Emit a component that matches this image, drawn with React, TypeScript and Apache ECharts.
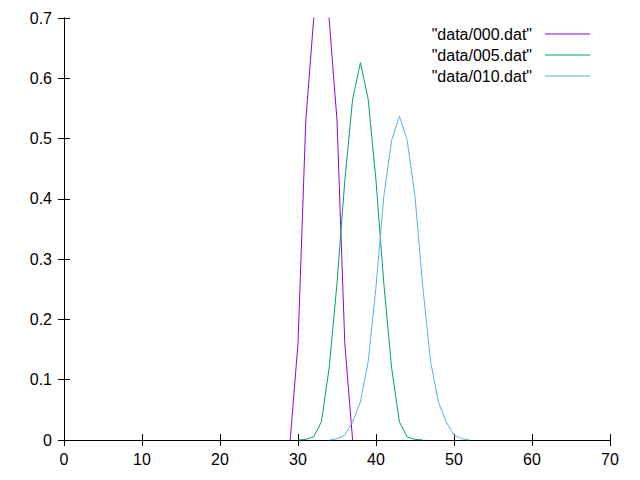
import React, { useEffect, useRef } from "react";
import * as echarts from "echarts";

const names = ['"data/000.dat"', '"data/005.dat"', '"data/010.dat"'];
const colors = ["#9400D3", "#009E73", "#56B4E9"];

const x000 = [29, 30, 31, 32, 33, 34, 35, 36, 37];
const y000 = [0, 0.16, 0.53, 0.697, 0.8, 0.697, 0.53, 0.16, 0];

const x005 = [30, 31, 32, 33, 34, 35, 36, 37, 38, 39, 40, 41, 42, 43, 44, 45, 46];
const y005 = [0, 0.001, 0.005, 0.03, 0.12, 0.26, 0.43, 0.565, 0.626, 0.565, 0.43, 0.26, 0.12, 0.03, 0.005, 0.001, 0];

const x010 = [34, 35, 36, 37, 38, 39, 40, 41, 42, 43, 44, 45, 46, 47, 48, 49, 50, 51, 52];
const y010 = [0, 0.002, 0.008, 0.03, 0.063, 0.13, 0.254, 0.404, 0.497, 0.537, 0.497, 0.404, 0.254, 0.13, 0.063, 0.03, 0.008, 0.002, 0];

const xMin = 0, xMax = 70, xStep = 10;
const yMin = 0, yMax = 0.7, yStep = 0.1;

const FONT = "Liberation Sans, Arial, sans-serif";

export default function App() {
  const ref = useRef<HTMLDivElement>(null);
  useEffect(() => {
    if (!ref.current) return;
    const chart = echarts.init(ref.current, undefined, { renderer: "svg" });
    const xs = [x000, x005, x010];
    const ys = [y000, y005, y010];
    const axisCommon = {
      axisLine: { show: true, lineStyle: { color: "#000", width: 1 } },
      axisTick: { show: true, inside: true, length: 6, lineStyle: { color: "#000" } },
      splitLine: { show: false },
    };
    chart.setOption({
      animation: false,
      backgroundColor: "#fff",
      grid: { left: 64, right: 30, top: 18, bottom: 40, containLabel: false },
      legend: {
        orient: "vertical",
        right: 50,
        top: 26,
        padding: 0,
        align: "right",
        itemWidth: 45,
        itemHeight: 14,
        itemGap: 5,
        icon: "path://M0,7L45,7L45,8L0,8Z",
        textStyle: { fontFamily: FONT, fontSize: 16, lineHeight: 14, color: "#000", padding: [0, 8, 0, 0] },
        data: names,
      },
      xAxis: [
        {
          type: "value", min: xMin, max: xMax, interval: xStep, position: "bottom",
          ...axisCommon,
          axisLabel: { color: "#000", fontFamily: FONT, fontSize: 16, margin: 11 },
        },
        {
          type: "value", min: xMin, max: xMax, interval: xStep, position: "top",
          ...axisCommon,
          axisLabel: { show: false },
        },
      ],
      yAxis: [
        {
          type: "value", min: yMin, max: yMax, interval: yStep, position: "left",
          ...axisCommon,
          axisLabel: {
            color: "#000", fontFamily: FONT, fontSize: 16, margin: 12,
            formatter: (v: number) => String(+v.toFixed(1)),
          },
        },
        {
          type: "value", min: yMin, max: yMax, interval: yStep, position: "right",
          ...axisCommon,
          axisLabel: { show: false },
        },
      ],
      series: names.map((n, i) => ({
        name: n,
        type: "line",
        xAxisIndex: 0,
        yAxisIndex: 0,
        showSymbol: false,
        symbol: "none",
        clip: true,
        color: colors[i],
        lineStyle: { color: colors[i], width: 1 },
        data: xs[i].map((x, j) => [x, ys[i][j]]),
      })),
    });
    return () => chart.dispose();
  }, []);
  return (
    <div
      ref={ref}
      style={{ position: "fixed", left: 0, top: 0, width: 640, height: 480, background: "#fff" }}
    />
  );
}
